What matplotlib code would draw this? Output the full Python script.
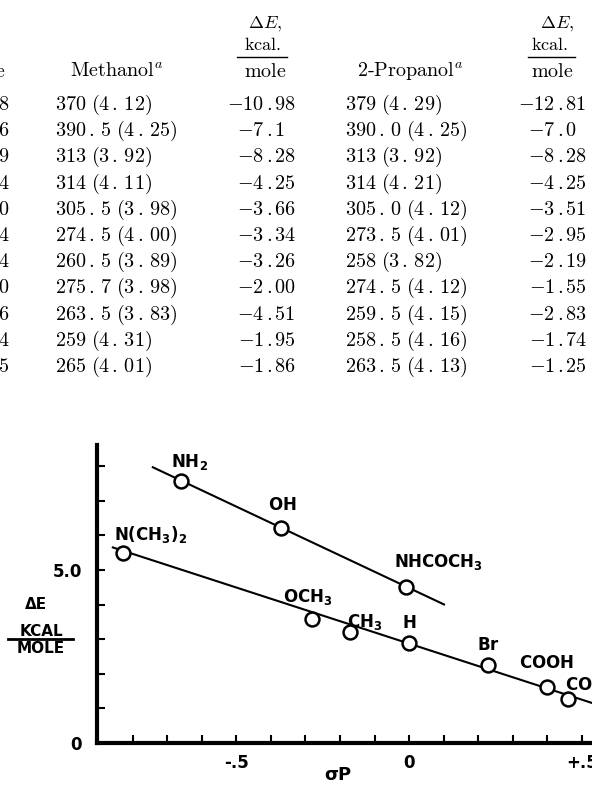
import matplotlib.pyplot as plt
from matplotlib.lines import Line2D

plt.rcParams['mathtext.fontset'] = 'cm'

W, H = 592, 788

# table values (left column is cut off on the page)
cut_digits = ["8", "6", "9", "4", "0", "4", "4", "0", "6", "4", "5"]
methanol = ["370 (4.12)", "390.5 (4.25)", "313 (3.92)", "314 (4.11)", "305.5 (3.98)",
            "274.5 (4.00)", "260.5 (3.89)", "275.7 (3.98)", "263.5 (3.83)", "259 (4.31)",
            "265 (4.01)"]
de_methanol = ["-10.98", "-7.1", "-8.28", "-4.25", "-3.66", "-3.34", "-3.26", "-2.00",
               "-4.51", "-1.95", "-1.86"]
propanol = ["379 (4.29)", "390.0 (4.25)", "313 (3.92)", "314 (4.21)", "305.0 (4.12)",
            "273.5 (4.01)", "258 (3.82)", "274.5 (4.12)", "259.5 (4.15)", "258.5 (4.16)",
            "263.5 (4.13)"]
de_propanol = ["-12.81", "-7.0", "-8.28", "-4.25", "-3.51", "-2.95", "-2.19", "-1.55",
               "-2.83", "-1.74", "-1.25"]

# chart values
upper_names = [r"NH_2", r"OH", r"NHCOCH_3"]
upper_sigma = [-0.66, -0.37, -0.01]
upper_de = [7.57, 6.21, 4.51]
lower_names = [r"N(CH_3)_2", r"OCH_3", r"CH_3", r"H", r"Br", r"COOH", r"COOCH_3"]
lower_sigma = [-0.83, -0.28, -0.17, 0.0, 0.23, 0.40, 0.46]
lower_de = [5.49, 3.58, 3.21, 2.89, 2.25, 1.62, 1.27]
upper_fit_x = [-0.745, 0.104]
upper_fit_y = [7.98, 3.99]
lower_fit_x = [-0.861, 0.60]
lower_fit_y = [5.66, 0.93]

x_ticks = [-0.8, -0.7, -0.6, -0.5, -0.4, -0.3, -0.2, -0.1, 0.0, 0.1, 0.2, 0.3, 0.4, 0.5]
x_labels = ["", "", "", "-.5", "", "", "", "", "0", "", "", "", "", "+.5"]
y_ticks = [0, 1, 2, 3, 4, 5, 6, 7, 8]
y_labels = ["0", "", "", "", "", "5.0", "", "", ""]

# label offsets in pixels (dx, dy)
upper_off = [(-10, 14), (-13, 18), (-12, 20)]
lower_off = [(-9, 13), (-29, 17), (-3, 5), (-7, 15), (-11, 15), (-28, 19), (-3, 9)]


def fx(x):
    return x / W


def fy(y):
    return 1 - y / H


def mt(s):
    return "$" + s.replace(".", r"\,.\,").replace(" ", r"\ ") + "$"


fig = plt.figure(figsize=(W / 100, H / 100), dpi=100)

fs = 14.5
tk = dict(fontsize=fs, color="black")

# ---- table ----
row0, step = 110, 26.2
for i in range(len(methanol)):
    yb = fy(row0 + step * i)
    fig.text(fx(9), yb, mt(cut_digits[i]), ha="right", va="baseline", **tk)
    fig.text(fx(55), yb, mt(methanol[i]), ha="left", va="baseline", **tk)
    fig.text(fx(345), yb, mt(propanol[i]), ha="left", va="baseline", **tk)
    for val, xd in ((de_methanol[i], 269), (de_propanol[i], 560)):
        a, b = val.split(".")
        fig.text(fx(xd - 5), yb, "$" + a + "$", ha="right", va="baseline", **tk)
        fig.text(fx(xd), yb, "$.$", ha="center", va="baseline", **tk)
        fig.text(fx(xd + 5), yb, "$" + b + "$", ha="left", va="baseline", **tk)

fig.text(fx(5), fy(77), "$\\mathrm{e}$", ha="right", va="baseline", **tk)
fig.text(fx(70), fy(77), r"$\mathrm{Methanol}^a$", ha="left", va="baseline", **tk)
fig.text(fx(357), fy(77), r"$\mathrm{2\text{-}Propanol}^a$", ha="left", va="baseline", **tk)
for xc, x0, x1, xe in ((263, 237, 287, 265), (550, 528, 575, 557)):
    fig.text(fx(xe), fy(28), r"$\Delta E,$", ha="center", va="baseline", fontsize=13)
    fig.text(fx(xc), fy(50), r"$\mathrm{kcal.}$", ha="center", va="baseline", fontsize=13)
    fig.add_artist(Line2D([fx(x0), fx(x1)], [fy(57), fy(57)], color="black",
                          lw=1.0, transform=fig.transFigure))
    fig.text(fx(xc + 2), fy(77), r"$\mathrm{mole}$", ha="center", va="baseline", **tk)

# ---- chart ----
ax = fig.add_axes([fx(97), fy(743), (592 - 97) / W, (743 - 445) / H])
ax.set_xlim(-0.904, 0.530)
ax.set_ylim(0, 8.61)
for s in ("top", "right"):
    ax.spines[s].set_visible(False)
for s in ("left", "bottom"):
    ax.spines[s].set_linewidth(3)

ax.plot(upper_fit_x, upper_fit_y, color="black", lw=1.5, solid_capstyle="butt")
ax.plot(lower_fit_x, lower_fit_y, color="black", lw=1.5, solid_capstyle="butt")
ax.plot(upper_sigma, upper_de, "o", mfc="white", mec="black", mew=1.8, ms=10)
ax.plot(lower_sigma, lower_de, "o", mfc="white", mec="black", mew=1.8, ms=10)

for names, xs, ys, offs in ((upper_names, upper_sigma, upper_de, upper_off),
                            (lower_names, lower_sigma, lower_de, lower_off)):
    for n, x, y, o in zip(names, xs, ys, offs):
        ax.annotate(r"$\mathbf{" + n + "}$", (x, y), xytext=o, textcoords="offset pixels",
                    ha="left", va="baseline", fontsize=12, math_fontfamily="dejavusans",
                    annotation_clip=False)

ax.set_xticks(x_ticks, x_labels)
ax.set_yticks(y_ticks, y_labels)
ax.tick_params(axis="x", direction="in", length=6, width=1.5, pad=8, labelsize=12)
ax.tick_params(axis="y", direction="in", length=6, width=1.5, pad=11, labelsize=12)
for lab in ax.get_xticklabels() + ax.get_yticklabels():
    lab.set_fontweight("bold")

lab_kw = dict(fontsize=11, fontweight="bold", ha="center", va="baseline")
fig.text(fx(36), fy(609), "\u0394E", **lab_kw)
fig.text(fx(41), fy(636), "KCAL", **lab_kw)
fig.add_artist(Line2D([fx(8), fx(73)], [fy(639), fy(639)], color="black", lw=2,
                      transform=fig.transFigure))
fig.text(fx(41), fy(653), "MOLE", **lab_kw)
fig.text(fx(338), fy(775), "\u03c3P", fontsize=13, fontweight="bold", ha="center", va="center")

fig.savefig("out.png", dpi=100)
